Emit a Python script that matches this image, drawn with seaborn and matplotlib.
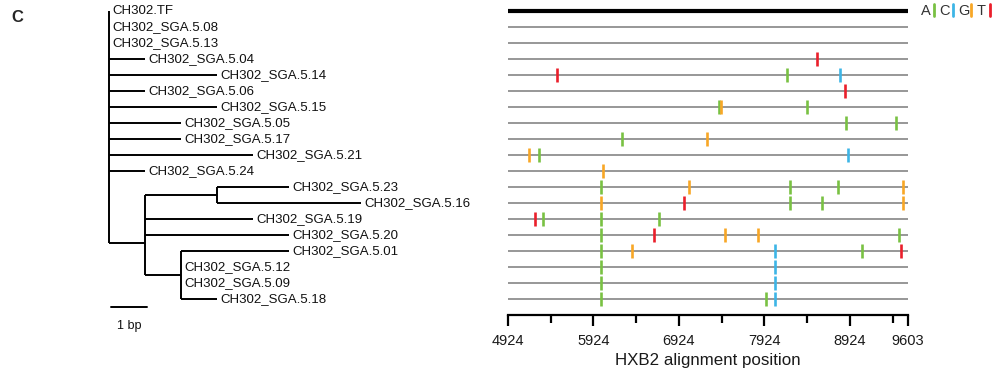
import numpy as np
import pandas as pd
import matplotlib
matplotlib.use("Agg")
import matplotlib.pyplot as plt
from matplotlib.lines import Line2D
import seaborn as sns

# ---- data -------------------------------------------------------------
sequences = [
    "CH302.TF", "CH302_SGA.5.08", "CH302_SGA.5.13", "CH302_SGA.5.04",
    "CH302_SGA.5.14", "CH302_SGA.5.06", "CH302_SGA.5.15", "CH302_SGA.5.05",
    "CH302_SGA.5.17", "CH302_SGA.5.21", "CH302_SGA.5.24", "CH302_SGA.5.23",
    "CH302_SGA.5.16", "CH302_SGA.5.19", "CH302_SGA.5.20", "CH302_SGA.5.01",
    "CH302_SGA.5.12", "CH302_SGA.5.09", "CH302_SGA.5.18",
]

# Neighbour-joining tree: leaves are (name, branch length in bp),
# clades are (list of children, branch length in bp)
tree = ([
    ("CH302.TF", 0), ("CH302_SGA.5.08", 0), ("CH302_SGA.5.13", 0),
    ("CH302_SGA.5.04", 1), ("CH302_SGA.5.14", 3), ("CH302_SGA.5.06", 1),
    ("CH302_SGA.5.15", 3), ("CH302_SGA.5.05", 2), ("CH302_SGA.5.17", 2),
    ("CH302_SGA.5.21", 4), ("CH302_SGA.5.24", 1),
    ([
        ([("CH302_SGA.5.23", 2), ("CH302_SGA.5.16", 4)], 2),
        ("CH302_SGA.5.19", 3),
        ("CH302_SGA.5.20", 4),
        ([("CH302_SGA.5.01", 3), ("CH302_SGA.5.12", 0),
          ("CH302_SGA.5.09", 0), ("CH302_SGA.5.18", 1)], 1),
    ], 1),
], 0)

# Mismatches relative to the transmitted/founder sequence
mut_seq = (
    ["CH302_SGA.5.04"]
    + ["CH302_SGA.5.14"] * 3
    + ["CH302_SGA.5.06"]
    + ["CH302_SGA.5.15"] * 3
    + ["CH302_SGA.5.05"] * 2
    + ["CH302_SGA.5.17"] * 2
    + ["CH302_SGA.5.21"] * 3
    + ["CH302_SGA.5.24"]
    + ["CH302_SGA.5.23"] * 5
    + ["CH302_SGA.5.16"] * 5
    + ["CH302_SGA.5.19"] * 4
    + ["CH302_SGA.5.20"] * 5
    + ["CH302_SGA.5.01"] * 5
    + ["CH302_SGA.5.12"] * 2
    + ["CH302_SGA.5.09"] * 2
    + ["CH302_SGA.5.18"] * 3
)
mut_pos = [
    8539,
    5497, 8184, 8811,
    8870,
    7392, 7416, 8422,
    8881, 9466,
    6261, 7255,
    5173, 5290, 8898,
    6032,
    6015, 7041, 8219, 8781, 9541,
    6015, 6986, 8219, 8597, 9541,
    5240, 5337, 6015, 6694,
    6015, 6628, 7466, 7852, 9498,
    6015, 6371, 8047, 9065, 9525,
    6015, 8047,
    6015, 8047,
    6015, 7946, 8047,
]
mut_base = [
    "T",
    "T", "A", "C",
    "T",
    "A", "G", "A",
    "A", "A",
    "A", "G",
    "G", "A", "C",
    "G",
    "A", "G", "A", "A", "G",
    "G", "T", "A", "A", "G",
    "T", "A", "A", "A",
    "A", "T", "G", "G", "A",
    "A", "G", "C", "A", "T",
    "A", "C",
    "A", "C",
    "A", "A", "C",
]

bases = ["A", "C", "G", "T"]
base_colors = ["#79c143", "#3db5e6", "#f8a726", "#ea1f2b"]

major_ticks = [4924, 5924, 6924, 7924, 8924, 9603]
minor_ticks = [5424, 6424, 7424, 8424, 9424]
x_range = (4924, 9603)

# ---- style ------------------------------------------------------------
sns.set_style("white")
plt.rcParams["font.family"] = ["Liberation Sans", "DejaVu Sans"]

W, H = 1003, 376
fig = plt.figure(figsize=(W / 100, H / 100), dpi=100)

row_top_px, row_step_px = 10.7, 16.0
ax_top_px, ax_bot_px = 2.7, 315.0
y_top = (ax_top_px - row_top_px) / row_step_px
y_bot = (ax_bot_px - row_top_px) / row_step_px
ax_bottom = 1 - ax_bot_px / H
ax_height = (ax_bot_px - ax_top_px) / H

# ---- highlighter plot -------------------------------------------------
ax = fig.add_axes([508 / W, ax_bottom, 400 / W, ax_height])
rows = {name: i for i, name in enumerate(sequences)}

for i, name in enumerate(sequences):
    if i == 0:
        ax.axhline(i, color="black", lw=3.0, zorder=1)
    else:
        ax.axhline(i, color="#7a7a7a", lw=1.1, zorder=1)

muts = pd.DataFrame({"seq": mut_seq, "pos": mut_pos, "base": mut_base})
muts["row"] = muts["seq"].map(rows)
sns.scatterplot(
    data=muts, x="pos", y="row", hue="base", hue_order=bases,
    palette=dict(zip(bases, base_colors)), marker="|", s=102,
    linewidth=1.9, legend=False, ax=ax, zorder=3,
)

ax.set_xlim(*x_range)
ax.set_ylim(y_bot, y_top)
ax.set_yticks([])
ax.set_xticks(major_ticks)
ax.set_xticks(minor_ticks, minor=True)
ax.set_xticklabels([str(t) for t in major_ticks], fontsize=10.5)
ax.tick_params(axis="x", which="major", bottom=True, length=8, width=1.6,
               pad=6, color="black", labelcolor="#1a1a1a")
ax.tick_params(axis="x", which="minor", bottom=True, length=5.5, width=1.6,
               color="black")
ax.set_xlabel("HXB2 alignment position", fontsize=12.2, color="#1a1a1a",
              labelpad=3)
ax.set_ylabel("")
for side in ("top", "left", "right"):
    ax.spines[side].set_visible(False)
ax.spines["bottom"].set_linewidth(1.6)
ax.spines["bottom"].set_color("black")

# base colour key
for i, (b, c) in enumerate(zip(bases, base_colors)):
    x_letter = 921 + i * 18.6
    fig.text(x_letter / W, 1 - 11 / H, b, fontsize=10.5, color="#333333",
             ha="left", va="center")
    xb = (x_letter + 13.2) / W
    fig.add_artist(Line2D([xb, xb], [1 - 3.5 / H, 1 - 16 / H], color=c,
                          lw=2.0, transform=fig.transFigure))

# ---- phylogenetic tree ------------------------------------------------
px_per_bp = 36.0
root_px = 109.0
tax = fig.add_axes([0, ax_bottom, 490 / W, ax_height])
tax.set_xlim(-root_px / px_per_bp, (490 - root_px) / px_per_bp)
tax.set_ylim(y_bot, y_top)
tax.axis("off")

segments, tips = [], []


def layout(node, x0):
    children, length = node
    x = x0 + length
    if isinstance(children, str):
        y = rows[children]
        tips.append((children, x, y))
        if length > 0:
            segments.append(((x0, x), (y, y)))
        return y, [y]
    info = [layout(c, x) for c in children]
    leaves = [l for _, ls in info for l in ls]
    y = float(np.mean(leaves))
    ys = [cy for cy, _ in info]
    segments.append(((x, x), (min(ys), max(ys))))
    if length > 0:
        segments.append(((x0, x), (y, y)))
    return y, leaves


layout(tree, 0.0)
for xs, ys in segments:
    tax.plot(xs, ys, color="black", lw=1.4, solid_capstyle="butt")

label_off = 3.0 / px_per_bp
for name, x, y in tips:
    tax.text(x + label_off, y, name, fontsize=9.5, color="#111111",
             ha="left", va="center")

# scale bar
sb_y = (307.3 - row_top_px) / row_step_px
tax.plot([0.05, 1.05], [sb_y, sb_y], color="black", lw=1.4, clip_on=False)
tax.text(0.55, (326 - row_top_px) / row_step_px, "1 bp", fontsize=9,
         ha="center", va="center", color="#111111", clip_on=False)

# panel letter
fig.text(11 / W, 1 - 18 / H, "C", fontsize=12, fontweight="bold",
         ha="left", va="center")

fig.savefig("out.png", dpi=100)
